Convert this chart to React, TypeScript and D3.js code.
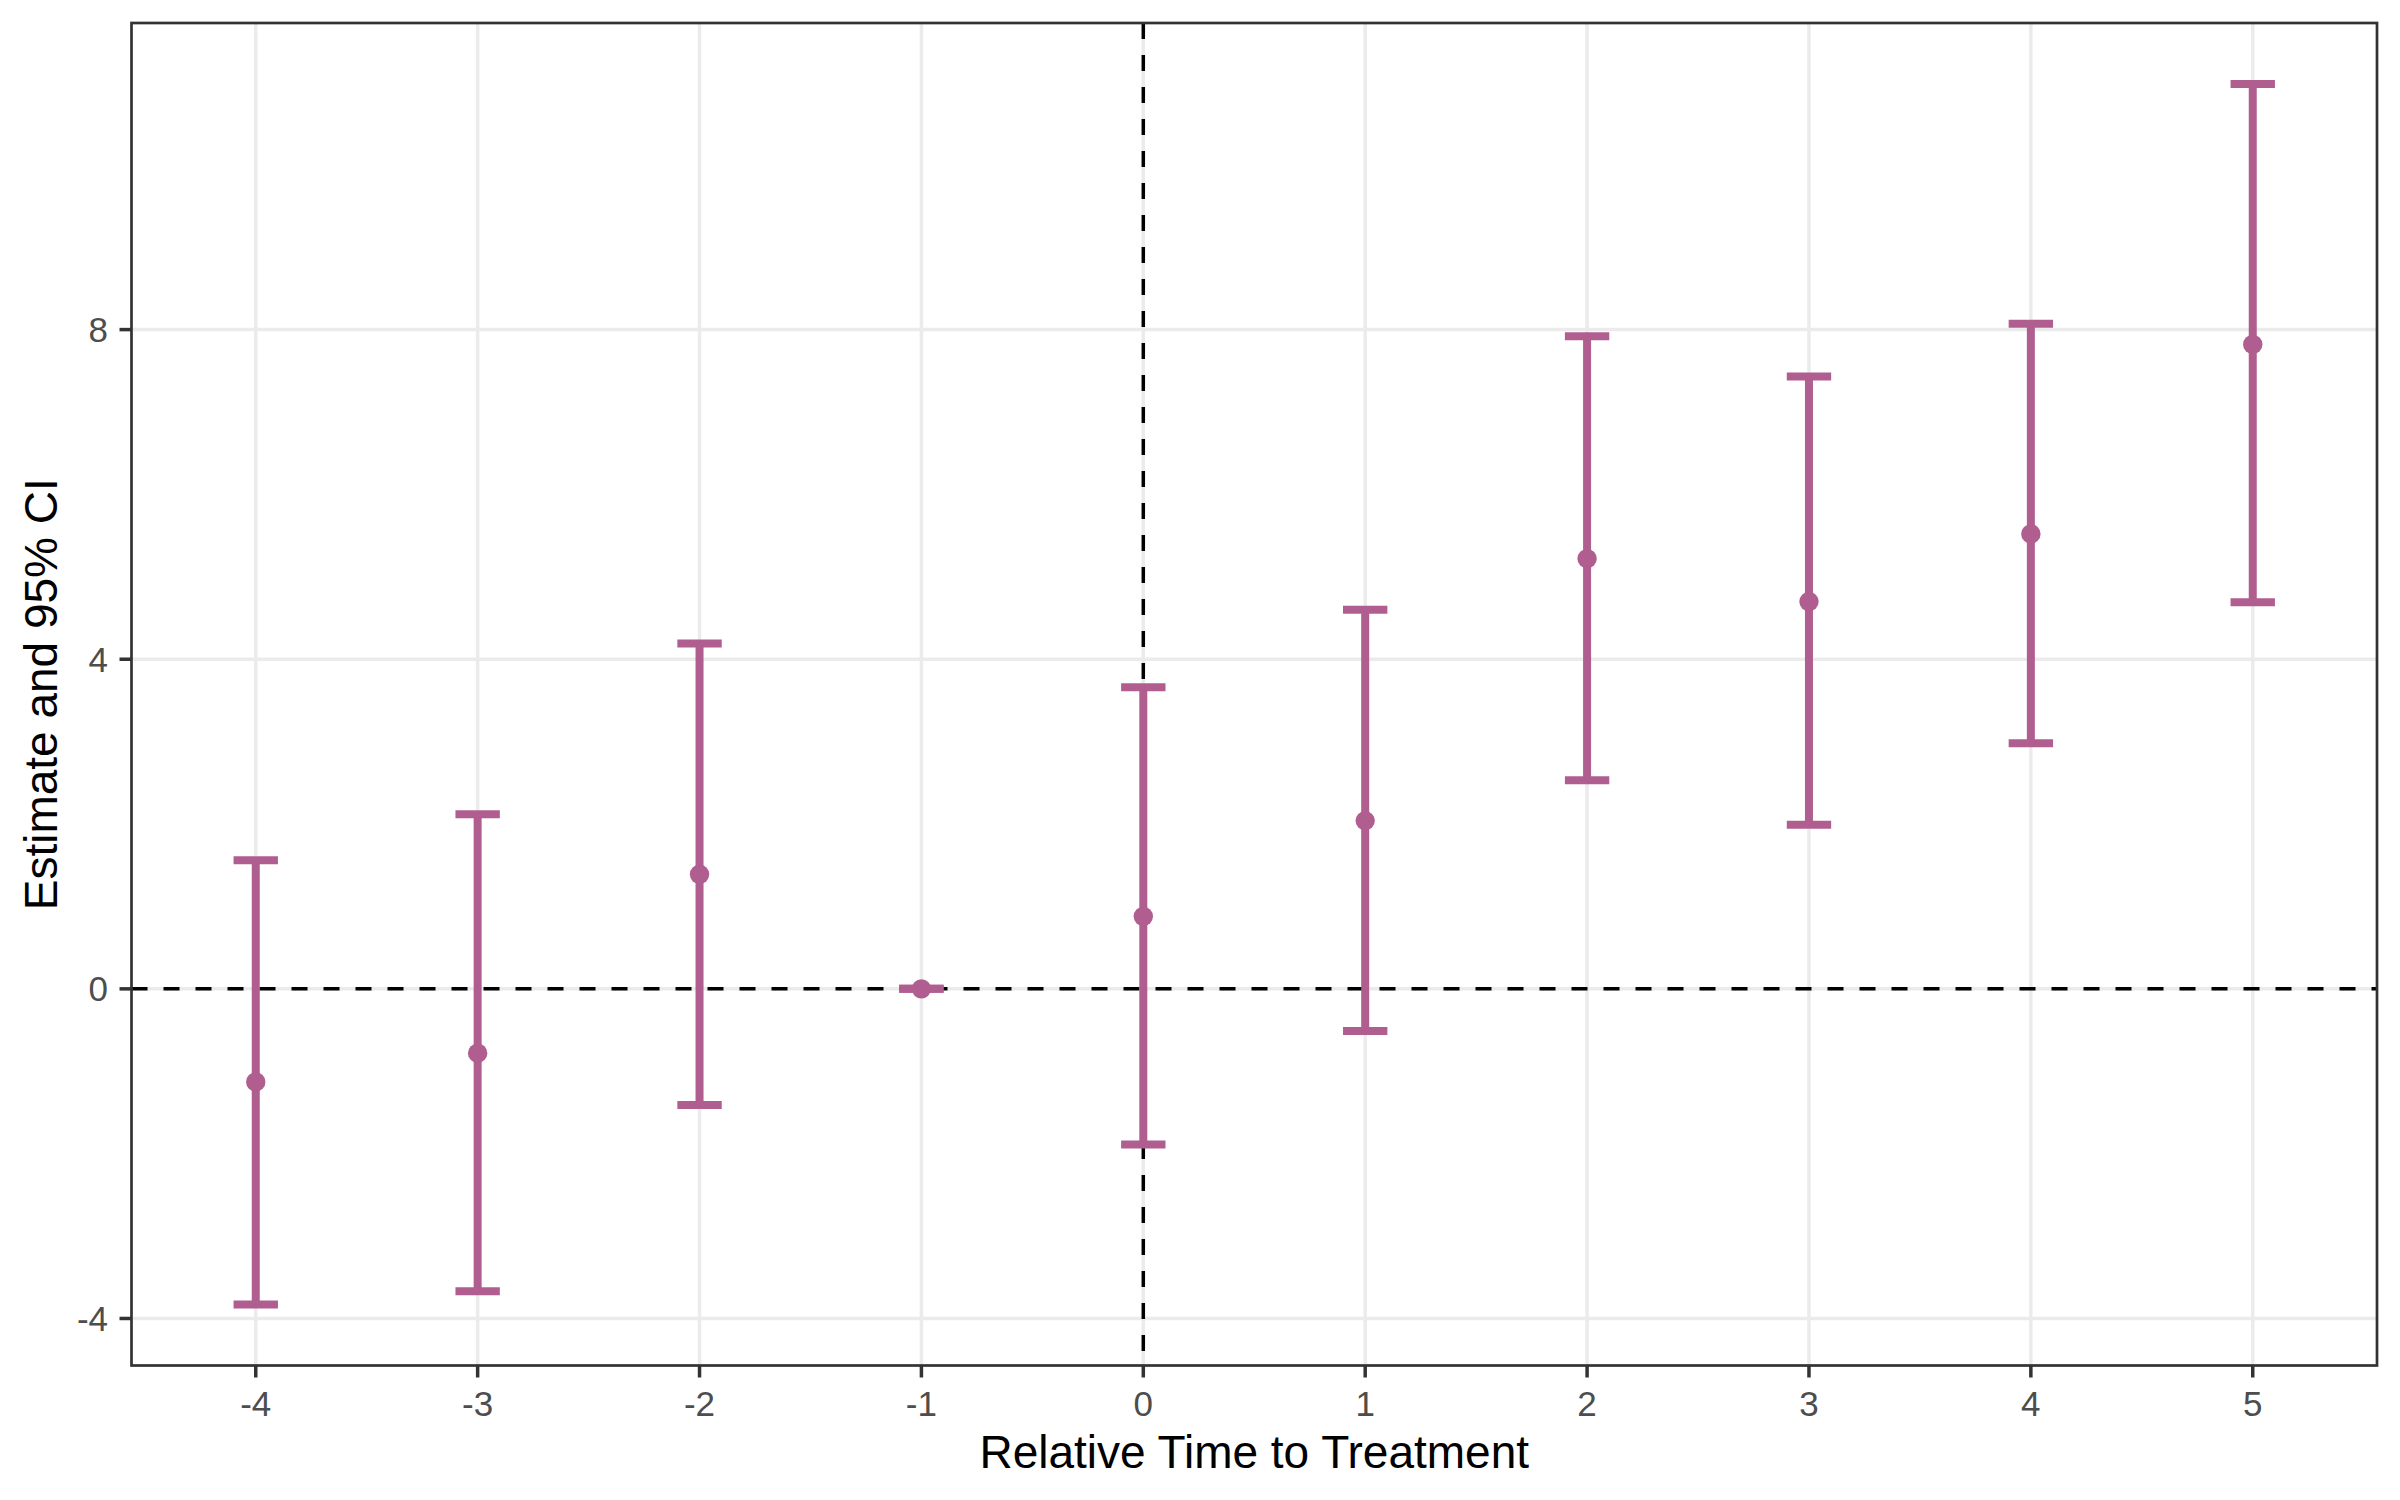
import * as d3 from 'd3';

// event-study estimates
const relTime = [-4, -3, -2, -1, 0, 1, 2, 3, 4, 5];
const estimate = [-1.13, -0.78, 1.39, 0, 0.88, 2.04, 5.22, 4.7, 5.52, 7.82];
const ciLow = [-3.83, -3.67, -1.41, 0, -1.89, -0.51, 2.53, 1.99, 2.98, 4.69];
const ciHigh = [1.56, 2.12, 4.19, 0, 3.66, 4.6, 7.92, 7.43, 8.07, 10.98];
const yTicks = [-4, 0, 4, 8];
const xTicks = relTime;

const WIDTH = 2400;
const HEIGHT = 1500;
const PANEL = { left: 131.5, top: 23, right: 2377, bottom: 1365.5 };
const BAR_WIDTH = 0.2; // errorbar cap width in data units
const COLOR = '#B05E90';
const FONT = '"Liberation Sans", Arial, sans-serif';

export default function App() {
  // ggplot-style 5% expansion on both axes
  const xMin = d3.min(relTime)! - BAR_WIDTH / 2;
  const xMax = d3.max(relTime)! + BAR_WIDTH / 2;
  const xPad = (xMax - xMin) * 0.05;
  const yMin = d3.min(ciLow)!;
  const yMax = d3.max(ciHigh)!;
  const yPad = (yMax - yMin) * 0.05;

  const x = d3.scaleLinear().domain([xMin - xPad, xMax + xPad]).range([PANEL.left, PANEL.right]);
  const y = d3.scaleLinear().domain([yMin - yPad, yMax + yPad]).range([PANEL.bottom, PANEL.top]);

  const rows = relTime.map((t, i) => ({ t, est: estimate[i], lo: ciLow[i], hi: ciHigh[i] }));
  const capHalf = (x(BAR_WIDTH) - x(0)) / 2;

  return (
    <svg
      width={WIDTH}
      height={HEIGHT}
      style={{ position: 'absolute', left: 0, top: 0, background: '#fff' }}
      fontFamily={FONT}
    >
      <rect x={0} y={0} width={WIDTH} height={HEIGHT} fill="#fff" />
      {/* grid */}
      <g stroke="#EBEBEB" strokeWidth={3.5}>
        {yTicks.map((v) => (
          <line key={`gy${v}`} x1={PANEL.left} x2={PANEL.right} y1={y(v)} y2={y(v)} />
        ))}
        {xTicks.map((v) => (
          <line key={`gx${v}`} x1={x(v)} x2={x(v)} y1={PANEL.top} y2={PANEL.bottom} />
        ))}
      </g>
      {/* reference lines */}
      <g stroke="#000" strokeWidth={3.5} strokeDasharray="16 16">
        <line x1={PANEL.left} x2={PANEL.right} y1={y(0)} y2={y(0)} />
        <line x1={x(0)} x2={x(0)} y1={PANEL.top} y2={PANEL.bottom} />
      </g>
      {/* error bars */}
      <g stroke={COLOR} strokeWidth={8} fill="none">
        {rows.map((d) => (
          <g key={`e${d.t}`}>
            <line x1={x(d.t)} x2={x(d.t)} y1={y(d.lo)} y2={y(d.hi)} />
            <line x1={x(d.t) - capHalf} x2={x(d.t) + capHalf} y1={y(d.hi)} y2={y(d.hi)} />
            <line x1={x(d.t) - capHalf} x2={x(d.t) + capHalf} y1={y(d.lo)} y2={y(d.lo)} />
          </g>
        ))}
      </g>
      <g fill={COLOR}>
        {rows.map((d) => (
          <circle key={`p${d.t}`} cx={x(d.t)} cy={y(d.est)} r={9.7} />
        ))}
      </g>
      {/* panel border */}
      <rect
        x={PANEL.left}
        y={PANEL.top}
        width={PANEL.right - PANEL.left}
        height={PANEL.bottom - PANEL.top}
        fill="none"
        stroke="#333333"
        strokeWidth={2.7}
      />
      {/* y axis */}
      <g>
        {yTicks.map((v) => (
          <g key={`ty${v}`}>
            <line x1={PANEL.left - 12} x2={PANEL.left} y1={y(v)} y2={y(v)} stroke="#333333" strokeWidth={3.5} />
            <text x={108} y={y(v) + 12.5} textAnchor="end" fontSize={35} fill="#4D4D4D">
              {v}
            </text>
          </g>
        ))}
      </g>
      {/* x axis */}
      <g>
        {xTicks.map((v) => (
          <g key={`tx${v}`}>
            <line x1={x(v)} x2={x(v)} y1={PANEL.bottom} y2={PANEL.bottom + 12} stroke="#333333" strokeWidth={3.5} />
            <text x={x(v)} y={1415.5} textAnchor="middle" fontSize={35} fill="#4D4D4D">
              {v}
            </text>
          </g>
        ))}
      </g>
      <text x={(PANEL.left + PANEL.right) / 2} y={1468} textAnchor="middle" fontSize={46} fill="#000">
        Relative Time to Treatment
      </text>
      <text
        transform={`translate(57,${(PANEL.top + PANEL.bottom) / 2}) rotate(-90)`}
        textAnchor="middle"
        fontSize={46}
        fill="#000"
      >
        Estimate and 95% CI
      </text>
    </svg>
  );
}
